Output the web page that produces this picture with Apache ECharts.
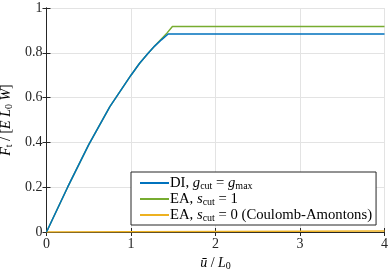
<!DOCTYPE html>
<html><head><meta charset="utf-8">
<script src="https://cdn.jsdelivr.net/npm/echarts@6/dist/echarts.min.js"></script>
<style>html,body{margin:0;padding:0;background:#fff}#c{width:390px;height:276px}</style>
</head><body><div id="c"></div>
<script>
// Data
const xTicks = [0, 1, 2, 3, 4];
const yTicks = [0, 0.2, 0.4, 0.6, 0.8, 1];
const diX =  [0, 0.25, 0.5, 0.75, 1.0, 1.1, 1.2, 1.28, 1.36, 1.44, 4];
const diY =  [0, 0.2, 0.39, 0.56, 0.70, 0.752, 0.797, 0.83, 0.858, 0.884, 0.884];
const ea1X = [0, 0.25, 0.5, 0.75, 1.0, 1.1, 1.2, 1.28, 1.36, 1.43, 1.49, 4];
const ea1Y = [0, 0.2, 0.39, 0.56, 0.70, 0.752, 0.797, 0.83, 0.862, 0.89, 0.917, 0.917];
const ea0X = [0, 4];
const ea0Y = [0, 0.004];
const names = ['DI', 'EA1', 'EA0'];

const font = 'Liberation Serif';
const fs = 14;
const mkRich = (size, sub) => ({
  i: {fontFamily: font, fontStyle: 'italic', fontSize: size, color: '#000'},
  n: {fontFamily: font, fontSize: size, color: '#000'},
  s: {fontFamily: font, fontSize: sub, color: '#000', verticalAlign: 'bottom', padding: [6, 0, 0, 0]}
});
const rich = mkRich(fs, 10);
const legendRich = mkRich(14.7, 10);
const legendText = {
  DI: '{n|DI, }{i|g}{s|cut}{n| = }{i|g}{s|max}',
  EA1: '{n|EA, }{i|s}{s|cut}{n| = 1}',
  EA0: '{n|EA, }{i|s}{s|cut}{n| = 0 (Coulomb-Amontons)}'
};
const pair = (xs, ys) => xs.map((x, i) => [x, ys[i]]);
const axisCommon = {
  type: 'value',
  axisLine: {show: true, lineStyle: {color: '#262626', width: 1}},
  axisTick: {show: true, inside: true, length: 4, lineStyle: {color: '#262626'}},
};
const chart = echarts.init(document.getElementById('c'), null, {renderer: 'canvas'});
chart.setOption({
  animation: false,
  grid: {left: 46.5, right: 5.5, top: 8, bottom: 44, containLabel: false, outerBoundsMode: 'none'},
  xAxis: [
    Object.assign({}, axisCommon, {
      min: 0, max: 4, interval: 1, position: 'bottom',
      axisLabel: {fontFamily: font, fontSize: fs, color: '#262626', margin: 5},
      splitLine: {show: true, lineStyle: {color: '#e3e3e3', width: 1}},
      name: '{i|ū}{n| / }{i|L}{s|0}', nameLocation: 'middle', nameGap: 11,
      nameTextStyle: {rich: rich, verticalAlign: 'top'}
    }),
    Object.assign({}, axisCommon, {
      min: 0, max: 4, interval: 1, position: 'top',
      axisLabel: {show: false}, splitLine: {show: false}
    })
  ],
  yAxis: [
    Object.assign({}, axisCommon, {
      min: 0, max: 1, interval: 0.2, position: 'left',
      axisLabel: {fontFamily: font, fontSize: fs, color: '#262626', margin: 4},
      splitLine: {show: true, lineStyle: {color: '#e3e3e3', width: 1}},
      name: '{i|F}{s|t}{n| / [}{i|E L}{s|0}{i| W}{n|]}', nameLocation: 'middle', nameGap: 25,
      nameTextStyle: {rich: rich}
    }),
    Object.assign({}, axisCommon, {
      min: 0, max: 1, interval: 0.2, position: 'right',
      axisLabel: {show: false}, splitLine: {show: false}
    })
  ],
  legend: {
    orient: 'vertical', left: 131, top: 172,
    data: names,
    itemWidth: 29, itemHeight: 2, itemGap: 0,
    padding: [3, 4, 2, 9],
    backgroundColor: '#fff', borderColor: '#262626', borderWidth: 1,
    icon: 'rect',
    formatter: n => legendText[n],
    textStyle: {rich: legendRich, padding: [0, 0, 0, -4], lineHeight: 16}
  },
  series: [
    {name: 'EA1', type: 'line', data: pair(ea1X, ea1Y), showSymbol: false, z: 2,
     lineStyle: {color: '#77AC30', width: 1.5}, itemStyle: {color: '#77AC30'}},
    {name: 'EA0', type: 'line', data: pair(ea0X, ea0Y), showSymbol: false, z: 3,
     lineStyle: {color: '#EDB120', width: 1.5}, itemStyle: {color: '#EDB120'}},
    {name: 'DI', type: 'line', data: pair(diX, diY), showSymbol: false, z: 4,
     lineStyle: {color: '#0072BD', width: 1.5}, itemStyle: {color: '#0072BD'}}
  ]
});
</script></body></html>
